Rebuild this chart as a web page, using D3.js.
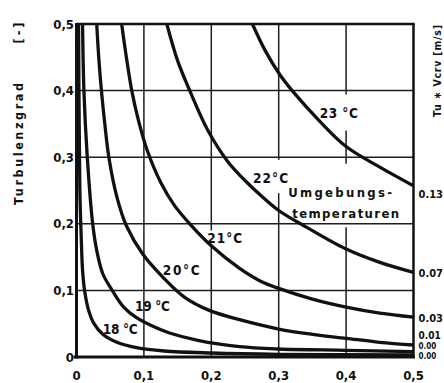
<!DOCTYPE html>
<html><head><meta charset="utf-8">
<script src="https://cdn.jsdelivr.net/npm/d3@7"></script>
<style>
html,body{margin:0;padding:0;background:#fff;}
svg{display:block;}
text{font-family:"DejaVu Sans Condensed","Liberation Sans Narrow","Arial Narrow","DejaVu Sans",sans-serif;font-weight:bold;fill:#111;}
</style></head><body>
<svg id="chart" width="444" height="383"></svg>
<script>
// ---- data ----
const xTicks = [0, 0.1, 0.2, 0.3, 0.4, 0.5];
const xTickLabels = ["0", "0,1", "0,2", "0,3", "0,4", "0,5"];
const yTicks = [0, 0.1, 0.2, 0.3, 0.4, 0.5];
const yTickLabels = ["0", "0,1", "0,2", "0,3", "0,4", "0,5"];
const temperatureLabels = ["18 °C", "19 °C", "20°C", "21°C", "22°C", "23 °C"];
const rightValueLabels = ["0.00", "0.00", "0.01", "0.03", "0.07", "0.13"];
const yTitle = "Turbulenzgrad";
const yUnit = "[ - ]";
const rightTitle = "Tu ∗ Vcrv [m/s]";
const noteLines = ["Umgebungs-", "temperaturen"];

const curve18 = [[0.003,0.5],[0.004,0.35],[0.005,0.25],[0.007,0.18],[0.009,0.13],[0.012,0.1],[0.018,0.07],[0.026,0.05],[0.039,0.034],[0.06,0.022],[0.089,0.014],[0.13,0.009],[0.2,0.006],[0.3,0.004],[0.5,0.003]];
const curve19 = [[0.009,0.5],[0.011,0.4],[0.016,0.3],[0.024,0.2],[0.03,0.16],[0.039,0.125],[0.053,0.1],[0.07,0.075],[0.089,0.059],[0.12,0.043],[0.138,0.036],[0.18,0.025],[0.242,0.0155],[0.3,0.012],[0.4,0.01],[0.5,0.008]];
const curve20 = [[0.03,0.5],[0.033,0.45],[0.037,0.4],[0.042,0.35],[0.048,0.3],[0.06,0.24],[0.074,0.197],[0.098,0.155],[0.128,0.12],[0.16,0.09],[0.197,0.07],[0.242,0.056],[0.3,0.042],[0.35,0.034],[0.4,0.028],[0.45,0.022],[0.5,0.018]];
const curve21 = [[0.067,0.5],[0.074,0.45],[0.082,0.4],[0.092,0.355],[0.105,0.31],[0.125,0.262],[0.145,0.228],[0.168,0.2],[0.2,0.167],[0.242,0.133],[0.271,0.115],[0.3,0.103],[0.35,0.087],[0.4,0.075],[0.45,0.066],[0.5,0.06]];
const curve22 = [[0.134,0.5],[0.15,0.445],[0.168,0.4],[0.195,0.34],[0.224,0.294],[0.25,0.265],[0.274,0.242],[0.3,0.22],[0.341,0.195],[0.4,0.162],[0.45,0.142],[0.5,0.127]];
const curve23 = [[0.261,0.5],[0.28,0.46],[0.301,0.425],[0.32,0.4],[0.36,0.355],[0.4,0.316],[0.45,0.285],[0.5,0.257]];
const curves = [curve18, curve19, curve20, curve21, curve22, curve23];

// ---- layout ----
const svg = d3.select("#chart");
const x = d3.scaleLinear().domain([0, 0.5]).range([76.5, 413.5]);
const y = d3.scaleLinear().domain([0, 0.5]).range([357, 24]);

// gridlines with gaps where labels sit (gaps in data units)
const vGaps = new Map([[0.2, [[0.168, 0.19]]], [0.3, [[0.246, 0.296]]], [0.4, [[0.195, 0.29], [0.34, 0.394]]]]);
const grid = svg.append("g").attr("stroke", "#1e1e1e").attr("stroke-width", 1.5);
xTicks.filter(t => t > 0 && t < 0.5).forEach(t => {
  const gaps = vGaps.get(t) || [];
  let start = 0;
  const segs = [];
  gaps.forEach(g => { segs.push([start, g[0]]); start = g[1]; });
  segs.push([start, 0.5]);
  segs.forEach(s => grid.append("line")
    .attr("x1", x(t)).attr("x2", x(t)).attr("y1", y(s[0])).attr("y2", y(s[1])));
});
yTicks.filter(t => t > 0 && t < 0.5).forEach(t => {
  grid.append("line").attr("x1", x(0)).attr("x2", x(0.5)).attr("y1", y(t)).attr("y2", y(t));
});

// frame
const frame = svg.append("g").attr("stroke", "#111").attr("fill", "none");
frame.append("line").attr("x1", x(0)).attr("x2", x(0)).attr("y1", y(0.5) - 1).attr("y2", y(0) + 1.5).attr("stroke-width", 3);
frame.append("line").attr("x1", x(0) - 3).attr("x2", x(0.5) + 1.5).attr("y1", y(0)).attr("y2", y(0)).attr("stroke-width", 3);
frame.append("line").attr("x1", x(0)).attr("x2", x(0.5) + 1.2).attr("y1", y(0.5)).attr("y2", y(0.5)).attr("stroke-width", 2.5);
frame.append("line").attr("x1", x(0.5)).attr("x2", x(0.5)).attr("y1", y(0.5)).attr("y2", y(0)).attr("stroke-width", 2.5);

// clip
svg.append("clipPath").attr("id", "plotclip").append("rect")
  .attr("x", x(0)).attr("y", y(0.5)).attr("width", x(0.5) - x(0)).attr("height", y(0) - y(0.5));

const line = d3.line().x(d => x(d[0])).y(d => y(d[1])).curve(d3.curveCatmullRom.alpha(0.5));
svg.append("g").attr("clip-path", "url(#plotclip)")
  .selectAll("path").data(curves).join("path")
  .attr("d", line).attr("fill", "none").attr("stroke", "#111")
  .attr("stroke-width", 3.3).attr("stroke-linecap", "round");

// tick labels
svg.append("g").selectAll("text").data(xTicks).join("text")
  .attr("x", d => x(d)).attr("y", 380).attr("text-anchor", "middle")
  .attr("font-size", 13).text((d, i) => xTickLabels[i]);
svg.append("g").selectAll("text").data(yTicks).join("text")
  .attr("x", 74).attr("y", d => y(d)).attr("dy", "0.36em").attr("text-anchor", "end")
  .attr("font-size", 13).text((d, i) => yTickLabels[i]);

// axis titles
svg.append("text").attr("transform", "translate(23,144) rotate(-90)")
  .attr("text-anchor", "middle").attr("font-size", 12.5)
  .attr("textLength", 122).attr("lengthAdjust", "spacing").text(yTitle);
svg.append("text").attr("transform", "translate(23,33) rotate(-90)")
  .attr("text-anchor", "middle").attr("font-size", 12.5)
  .attr("textLength", 21).attr("lengthAdjust", "spacing").text(yUnit);
svg.append("text").attr("transform", "translate(441,71) rotate(-90)")
  .attr("text-anchor", "middle").attr("font-size", 10.5)
  .attr("textLength", 92).attr("lengthAdjust", "spacing").text(rightTitle);

// temperature labels (anchor = left/baseline, data units)
const tempAnchors = [[0.039, 0.0345, 35], [0.0868, 0.069, 35], [0.128, 0.123, 37], [0.194, 0.171, 35], [0.262, 0.261, 35], [0.361, 0.359, 38]];
svg.append("g").selectAll("text").data(tempAnchors).join("text")
  .attr("x", d => x(d[0])).attr("y", d => y(d[1])).attr("font-size", 13.5)
  .attr("textLength", d => d[2]).attr("lengthAdjust", "spacing")
  .text((d, i) => temperatureLabels[i]);

// note
svg.append("text").attr("x", x(0.314)).attr("y", 197).attr("font-size", 13)
  .attr("textLength", 104).attr("lengthAdjust", "spacing").text(noteLines[0]);
svg.append("text").attr("x", x(0.32)).attr("y", 218).attr("font-size", 13)
  .attr("textLength", 107).attr("lengthAdjust", "spacing").text(noteLines[1]);

// right-hand value labels at the curve ends
const rightDy = [1.5, -5.2, -10, 1, 1, 8];
const rightSize = [8, 8, 10, 11, 11, 11];
svg.append("g").selectAll("text").data(curves).join("text")
  .attr("x", x(0.5) + 5).attr("y", (d, i) => y(d[d.length - 1][1]) + rightDy[i])
  .attr("dy", "0.36em").attr("font-size", (d, i) => rightSize[i])
  .text((d, i) => rightValueLabels[i]);
</script>
</body></html>
